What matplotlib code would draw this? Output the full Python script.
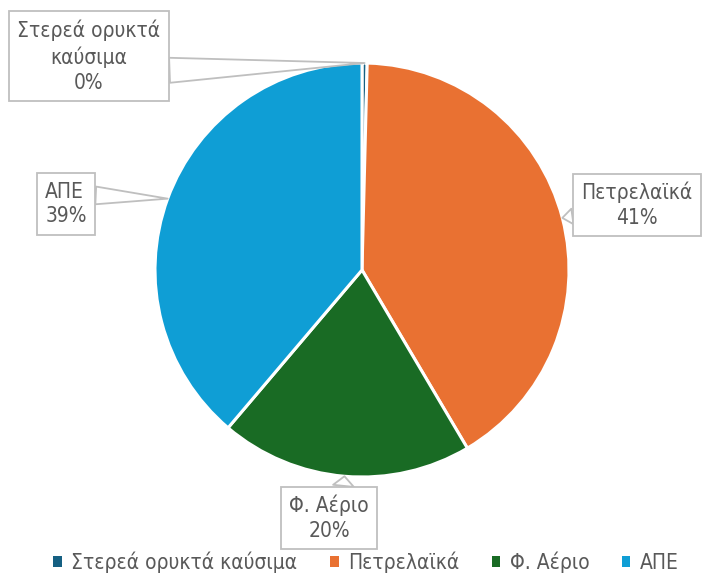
import numpy as np
import matplotlib.pyplot as plt
from matplotlib.patches import Patch

plt.rcParams['font.family'] = ['DejaVu Sans']
plt.rcParams['font.stretch'] = 'condensed'

labels = ['Στερεά ορυκτά καύσιμα', 'Πετρελαϊκά', 'Φ. Αέριο', 'ΑΠΕ']
values = [0.4, 41.1, 19.7, 38.8]
box_text = ['Στερεά ορυκτά\nκαύσιμα\n0%', 'Πετρελαϊκά\n41%', 'Φ. Αέριο\n20%', 'ΑΠΕ\n39%']
colors = ['#156082', '#E97132', '#196B24', '#0F9ED5']

W, H = 702, 582
cx, cy, r = 362, 312, 207  # pie centre / radius in pixels (from bottom)

fig = plt.figure(figsize=(W / 100, H / 100), dpi=100)
ax = fig.add_axes([(cx - r) / W, (cy - r) / H, 2 * r / W, 2 * r / H])
wedges, _ = ax.pie(values, colors=colors, startangle=90, counterclock=False,
                   radius=1, wedgeprops=dict(edgecolor='white', linewidth=2.2))
ax.set_xlim(-1, 1)
ax.set_ylim(-1, 1)
ax.set_aspect('equal')

# callout layout: box centre (px from top-left), leader base on box, base width, text align
label_pos = [(89, 56), (637, 205), (329, 518), (66, 204)]
leader_rel = [(1, 0.30), (0, 0.28), (0.67, 1), (1, 0.70)]
leader_w = [1.2, 0.75, 1.0, 0.85]
text_align = ['center', 'center', 'center', 'left']
text_col = '#595959'
for w, txt, (px, py), rel, tw, al in zip(wedges, box_text, label_pos,
                                         leader_rel, leader_w, text_align):
    ang = np.deg2rad((w.theta1 + w.theta2) / 2)
    tip = (np.cos(ang), np.sin(ang))
    ax.annotate(txt, xy=tip, xycoords='data',
                xytext=(px / W, 1 - py / H), textcoords='figure fraction',
                ha='center', va='center', multialignment=al,
                fontsize=15, color=text_col, linespacing=1.3,
                bbox=dict(boxstyle='square,pad=0.4', fc='white', ec='#BFBFBF', lw=1.3),
                arrowprops=dict(arrowstyle=f'wedge,tail_width={tw},shrink_factor=0.5',
                                fc='white', ec='#BFBFBF', lw=1.3, relpos=rel,
                                shrinkA=0, shrinkB=0),
                annotation_clip=False)

handles = [Patch(facecolor=c, edgecolor='none') for c in colors]
fig.legend(handles, labels, loc='center', bbox_to_anchor=(366 / W, 1 - 562 / H),
           ncol=4, frameon=False, prop=dict(size=15, stretch='condensed'),
           labelcolor=text_col,
           handlelength=0.42, handleheight=0.42, handletextpad=0.45, columnspacing=1.55)

fig.savefig('out.png', dpi=100)
